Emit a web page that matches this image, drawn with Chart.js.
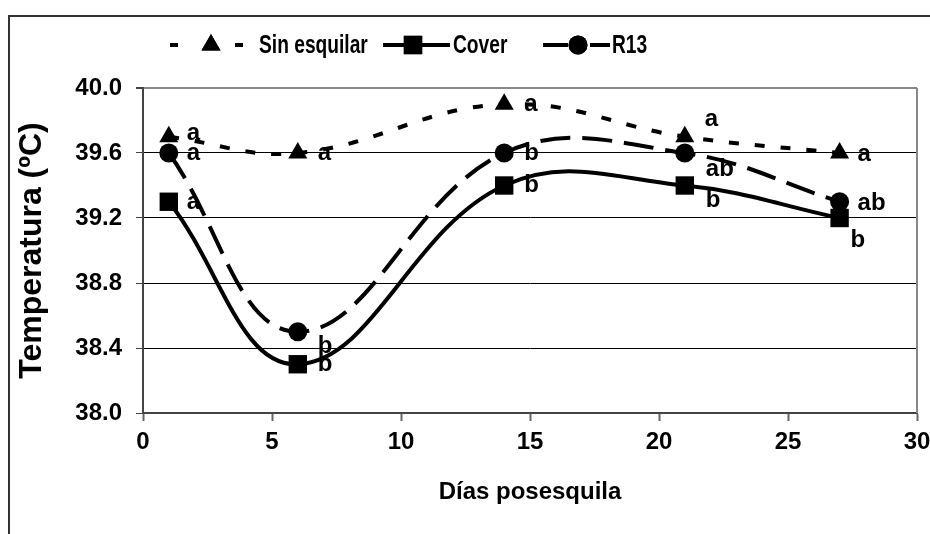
<!DOCTYPE html>
<html>
<head>
<meta charset="utf-8">
<script src="https://cdn.jsdelivr.net/npm/chart.js@4/dist/chart.umd.min.js"></script>
<style>
  html, body { margin: 0; padding: 0; background: #fff; overflow: hidden; }
  #wrap { position: relative; width: 930px; height: 534px; }
  #frame { position: absolute; left: 8px; top: 15px; width: 1000px; height: 1000px; border: 2px solid #333; }
  #chart { position: absolute; left: 0; top: 0; }
</style>
</head>
<body>
<div id="wrap">
  <div id="frame"></div>
  <canvas id="chart" width="930" height="534"></canvas>
</div>
<script>
// Temperatura rectal por día posesquila
var dias = [1, 6, 14, 21, 27];
var sinEsquilar = [39.7, 39.6, 39.9, 39.7, 39.6];
var cover = [39.3, 38.3, 39.4, 39.4, 39.2];
var r13 = [39.6, 38.5, 39.6, 39.6, 39.3];

// letras de significancia
var letrasSin = ['a', 'a', 'a', 'a', 'a'];
var letrasCover = ['a', 'b', 'b', 'b', 'b'];
var letrasR13 = ['a', 'b', 'b', 'ab', 'ab'];

var yTicks = [38.0, 38.4, 38.8, 39.2, 39.6, 40.0];
var xTicks = [0, 5, 10, 15, 20, 25, 30];

var FONT = "'Liberation Sans', Arial, sans-serif";

function toPoints(vals) {
    return dias.map(function (d, i) { return { x: d, y: vals[i] }; });
}

// where each letter sits relative to its marker
var letterOffsets = [
    [[18, -3], [20, 0], [20, 0], [20, -17], [18, 1]],
    [[18, 1], [20, 0], [20, 0], [21, 15], [11, 22]],
    [[18, 0], [20, 15], [20, 0], [21, 16], [18, 2]]
];

// legend sample geometry: line pieces, marker centre, text start
var legendItems = [
    { segs: [[170, 178], [235, 243]], mark: 211, text: 259 },
    { segs: [[383, 450]], mark: 413, text: 453 },
    { segs: [[543, 568], [590, 610]], mark: 578, text: 612 }
];

var datasets = [
    {
        label: 'Sin esquilar',
        data: toPoints(sinEsquilar),
        letters: letrasSin,
        borderColor: '#000',
        backgroundColor: '#000',
        borderWidth: 4,
        borderDash: [10, 16],
        pointStyle: 'triangle',
        pointRadius: 11,
        pointBorderWidth: 0,
        tension: 0.4,
        order: 3
    },
    {
        label: 'Cover',
        data: toPoints(cover),
        letters: letrasCover,
        borderColor: '#000',
        backgroundColor: '#000',
        borderWidth: 4,
        borderDash: [],
        pointStyle: 'rect',
        pointRadius: 13,
        pointBorderWidth: 0,
        tension: 0.4,
        order: 2
    },
    {
        label: 'R13',
        data: toPoints(r13),
        letters: letrasR13,
        borderColor: '#000',
        backgroundColor: '#000',
        borderWidth: 4,
        borderDash: [30, 12],
        pointStyle: 'circle',
        pointRadius: 9.5,
        pointBorderWidth: 0,
        tension: 0.4,
        order: 1
    }
];

// legend drawn by hand: line sample with marker in the middle, then text
var legendPlugin = {
    id: 'excelLegend',
    afterDraw: function (chart) {
        var ctx = chart.ctx;
        var y = 45;
        ctx.save();
        ctx.fillStyle = '#000';
        ctx.strokeStyle = '#000';
        chart.data.datasets.forEach(function (ds, i) {
            var it = legendItems[i];
            ctx.lineWidth = ds.borderWidth;
            it.segs.forEach(function (s) {
                ctx.beginPath();
                ctx.moveTo(s[0], y);
                ctx.lineTo(s[1], y);
                ctx.stroke();
            });
            Chart.helpers.drawPoint(ctx, {
                pointStyle: ds.pointStyle, radius: ds.pointRadius, rotation: 0, borderWidth: 0
            }, it.mark, y);
            ctx.fill();
            // condensed, taller text like the original
            ctx.save();
            ctx.translate(it.text, y + 1);
            ctx.scale(0.8, 1.1);
            ctx.font = 'bold 24px ' + FONT;
            ctx.textBaseline = 'middle';
            ctx.fillText(ds.label, 0, 0);
            ctx.restore();
        });
        ctx.restore();
    }
};

// significance letters next to each marker + right border of plot
var lettersPlugin = {
    id: 'letters',
    afterDatasetsDraw: function (chart) {
        var ctx = chart.ctx;
        var area = chart.chartArea;
        ctx.save();
        ctx.strokeStyle = '#888';
        ctx.lineWidth = 2;
        ctx.beginPath();
        ctx.moveTo(area.right, area.top);
        ctx.lineTo(area.right, area.bottom);
        ctx.stroke();

        ctx.font = 'bold 24px ' + FONT;
        ctx.textBaseline = 'middle';
        ctx.textAlign = 'left';
        ctx.fillStyle = '#000';
        chart.data.datasets.forEach(function (ds, di) {
            var meta = chart.getDatasetMeta(di);
            meta.data.forEach(function (pt, i) {
                var off = letterOffsets[di][i];
                ctx.fillText(ds.letters[i], pt.x + off[0], pt.y + off[1]);
            });
        });
        ctx.restore();
    }
};

var chart = new Chart(document.getElementById('chart'), {
    type: 'line',
    data: { datasets: datasets },
    options: {
        responsive: false,
        animation: false,
        layout: { padding: { top: 88, right: 10, left: 0, bottom: 0 } },
        plugins: {
            legend: { display: false },
            tooltip: { enabled: false }
        },
        scales: {
            x: {
                type: 'linear',
                min: 0,
                max: 30,
                afterBuildTicks: function (s) { s.ticks = xTicks.map(function (v) { return { value: v }; }); },
                afterFit: function (s) {
                    s.height = 121;
                    s.paddingLeft = 0;
                    s.paddingRight = 0;
                },
                grid: { drawOnChartArea: false, tickLength: 8, tickColor: '#666', tickWidth: 2 },
                border: { color: '#444', width: 2 },
                ticks: {
                    color: '#000',
                    padding: 7,
                    maxRotation: 0,
                    font: { family: FONT, size: 24, weight: 'bold' }
                },
                title: {
                    display: true,
                    text: 'Días posesquila',
                    color: '#000',
                    padding: { top: 0, bottom: 27 },
                    font: { family: FONT, size: 24, weight: 'bold' }
                }
            },
            y: {
                min: 38,
                max: 40,
                afterBuildTicks: function (s) { s.ticks = yTicks.map(function (v) { return { value: v }; }); },
                afterFit: function (s) {
                    s.width = 143;
                    s.paddingTop = 0;
                    s.paddingBottom = 0;
                },
                grid: {
                    tickLength: 7,
                    color: function (c) { return c.tick && c.tick.value === 40 ? '#888' : '#000'; },
                    lineWidth: function (c) { return c.tick && c.tick.value === 40 ? 2 : 1; },
                    tickColor: '#444'
                },
                border: { color: '#444', width: 2 },
                ticks: {
                    color: '#000',
                    padding: 14,
                    font: { family: FONT, size: 24, weight: 'bold' },
                    callback: function (v) { return v.toFixed(1); }
                },
                title: {
                    display: true,
                    text: 'Temperatura (ºC)',
                    color: '#000',
                    padding: { top: 13, bottom: 0 },
                    font: { family: FONT, size: 32, weight: 'bold' }
                }
            }
        }
    },
    plugins: [legendPlugin, lettersPlugin]
});
</script>
</body>
</html>
